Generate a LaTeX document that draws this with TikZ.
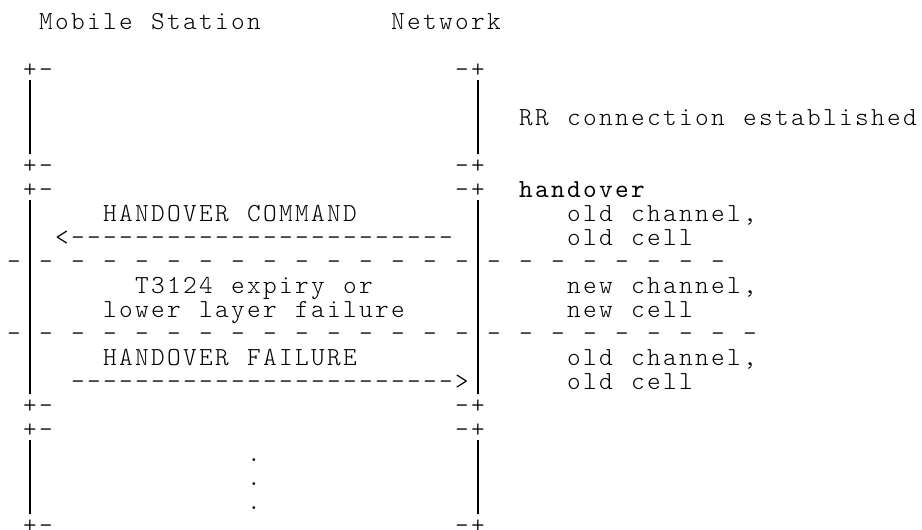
\documentclass[tikz,border=0pt]{standalone}
\usepackage{fontspec}
\newfontfamily\asciifont{lmmonolt10-regular.otf}
\newfontfamily\asciibold{lmmono10-regular.otf}
\ExplSyntaxOn
\NewDocumentCommand\mono{m}{\str_map_inline:nn{#1}{\makebox[12pt][c]{##1}}}
\ExplSyntaxOff
\tikzset{
  txt/.style={anchor=base west, inner sep=0pt, outer sep=0pt,
    font=\asciifont\fontsize{19.5pt}{22pt}\selectfont},
  txtb/.style={txt, font=\asciibold\fontsize{19.5pt}{22pt}\selectfont},
  bar/.style={line width=1pt, line cap=butt}
}
\newcommand\tn[4]{\node[txt] (#1) at ({6+16*(#2)},{77+24*(#3)}) {\mono{#4}};}
\begin{document}
\begin{tikzpicture}[x=0.75pt,y=-0.75pt]
\useasboundingbox (0,0) rectangle (922,529);
% headings
\tn{ms}{2}{-2}{Mobile Station}
\tn{nw}{24}{-2}{Network}
% box A
\tn{a0l}{1}{0}{+-} \tn{a0r}{28}{0}{-+}
\tn{rr}{32}{2}{RR connection established}
\tn{a4l}{1}{4}{+-} \tn{a4r}{28}{4}{-+}
% box B
\tn{b5l}{1}{5}{+-} \tn{b5r}{28}{5}{-+}
\node[txtb] (ho) at ({6+16*32},{77+24*5}) {\mono{handover}};
\tn{hc}{6}{6}{HANDOVER COMMAND} \tn{oc1}{35}{6}{old channel,}
\tn{arl}{3}{7}{<------------------------} \tn{ocl1}{35}{7}{old cell}
\tn{d1a}{0}{8}{-} \tn{d1b}{2}{8}{- - - - - - - - - - - - - -} \tn{d1c}{30}{8}{- - - - - - - -}
\tn{t1}{8}{9}{T3124 expiry or} \tn{nc}{35}{9}{new channel,}
\tn{t2}{6}{10}{lower layer failure} \tn{ncl}{35}{10}{new cell}
\tn{d2a}{0}{11}{-} \tn{d2b}{2}{11}{- - - - - - - - - - - - - -} \tn{d2c}{30}{11}{- - - - - - - - -}
\tn{hf}{6}{12}{HANDOVER FAILURE} \tn{oc2}{35}{12}{old channel,}
\tn{arr}{4}{13}{------------------------>} \tn{ocl2}{35}{13}{old cell}
\tn{b14l}{1}{14}{+-} \tn{b14r}{28}{14}{-+}
% box C
\tn{c15l}{1}{15}{+-} \tn{c15r}{28}{15}{-+}
\tn{dot1}{15}{16}{.} \tn{dot2}{15}{17}{.} \tn{dot3}{15}{18}{.}
\tn{c19l}{1}{19}{+-} \tn{c19r}{28}{19}{-+}
% vertical bars
\coordinate (LA1) at (30,80);  \coordinate (LA2) at (30,154);
\coordinate (RA1) at (478,80); \coordinate (RA2) at (478,154);
\coordinate (LB1) at (30,200); \coordinate (LB2) at (30,394);
\coordinate (RB1) at (478,200);\coordinate (RB2) at (478,394);
\coordinate (LC1) at (30,440); \coordinate (LC2) at (30,514);
\coordinate (RC1) at (478,440);\coordinate (RC2) at (478,514);
\draw[bar] (LA1) -- (LA2); \draw[bar] (RA1) -- (RA2);
\draw[bar] (LB1) -- (LB2); \draw[bar] (RB1) -- (RB2);
\draw[bar] (LC1) -- (LC2); \draw[bar] (RC1) -- (RC2);
\end{tikzpicture}
\end{document}
